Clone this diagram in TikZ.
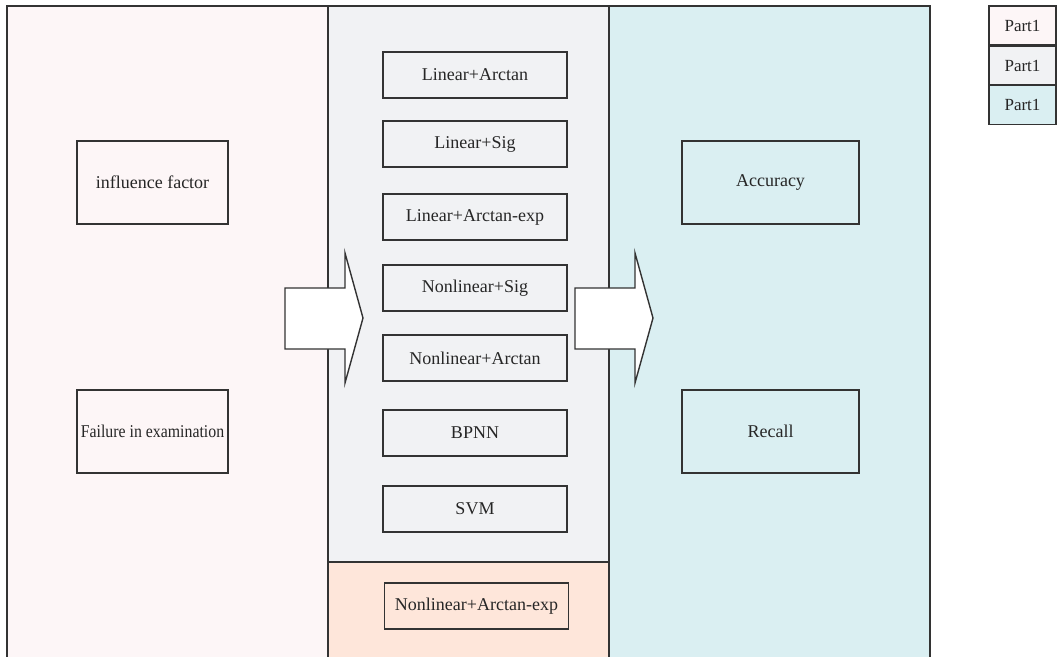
\documentclass[tikz,border=0pt]{standalone}
\usepackage{fontspec}
\setmainfont{Liberation Serif}
\definecolor{pinkbg}{HTML}{FDF6F7}
\definecolor{graybg}{HTML}{F1F2F4}
\definecolor{peachbg}{HTML}{FEE6DA}
\definecolor{cyanbg}{HTML}{DAEFF2}
\definecolor{edge}{HTML}{333333}
\begin{document}
\begin{tikzpicture}[x=1pt,y=-1pt,
  panel/.style={draw=edge, line width=2pt},
  mbox/.style={draw=edge, line width=1.4pt, minimum width=184pt, minimum height=46pt,
    inner sep=0pt, font=\fontsize{18}{20}\selectfont, text=black!85},
  sbox/.style={draw=edge, line width=1.4pt, minimum width=151pt, minimum height=83pt,
    inner sep=0pt, font=\fontsize{18}{20}\selectfont, text=black!85},
  rbox/.style={draw=edge, line width=1.4pt, minimum width=177pt, minimum height=83pt,
    inner sep=0pt, font=\fontsize{18}{20}\selectfont, text=black!85},
  lbox/.style={draw=edge, line width=1.6pt, minimum width=67pt, minimum height=39pt,
    inner sep=0pt, font=\fontsize{17}{20}\selectfont, text=black!85},
  blockarrow/.style={draw=edge, line width=1.4pt, fill=white, line join=miter}]
\useasboundingbox (0,0) rectangle (1057,656);
\clip (0,0) rectangle (1057,656);

% background panels
\draw[panel, fill=pinkbg] (7,6) rectangle (328,672);
\draw[panel, fill=cyanbg] (609,6) rectangle (930,672);
\draw[panel, fill=graybg] (328,6) rectangle (609,562);
\draw[panel, fill=peachbg] (328,562) rectangle (609,672);

% left column
\node[sbox] (inf) at (152.5,182.5) {influence factor};
\node[sbox] (fail) at (152.5,431.5) {\scalebox{0.88}[1]{Failure in examination}};

% middle column: models
\node[mbox] (m1) at (475,75) {Linear+Arctan};
\node[mbox] (m2) at (475,144) {Linear+Sig};
\node[mbox] (m3) at (475,217) {Linear+Arctan-exp};
\node[mbox] (m4) at (475,288) {Nonlinear+Sig};
\node[mbox] (m5) at (475,358) {Nonlinear+Arctan};
\node[mbox] (m6) at (475,433) {BPNN};
\node[mbox] (m7) at (475,509) {SVM};
\node[mbox] (m8) at (476.5,606) {Nonlinear+Arctan-exp};

% right column: metrics
\node[rbox] (acc) at (770.5,182.5) {Accuracy};
\node[rbox] (rec) at (770.5,431.5) {Recall};

% block arrows between the columns
\draw[blockarrow] (285,288) -- (345,288) -- (345,253) -- (363,318) -- (345,383)
  -- (345,349) -- (285,349) -- cycle;
\draw[blockarrow] (575,288) -- (635,288) -- (635,253) -- (653,318) -- (635,383)
  -- (635,349) -- (575,349) -- cycle;

% legend
\node[lbox, fill=pinkbg] (lg1) at (1022.5,25.5) {Part1};
\node[lbox, fill=graybg] (lg2) at (1022.5,65.5) {Part1};
\node[lbox, fill=cyanbg] (lg3) at (1022.5,105) {Part1};
\end{tikzpicture}
\end{document}
